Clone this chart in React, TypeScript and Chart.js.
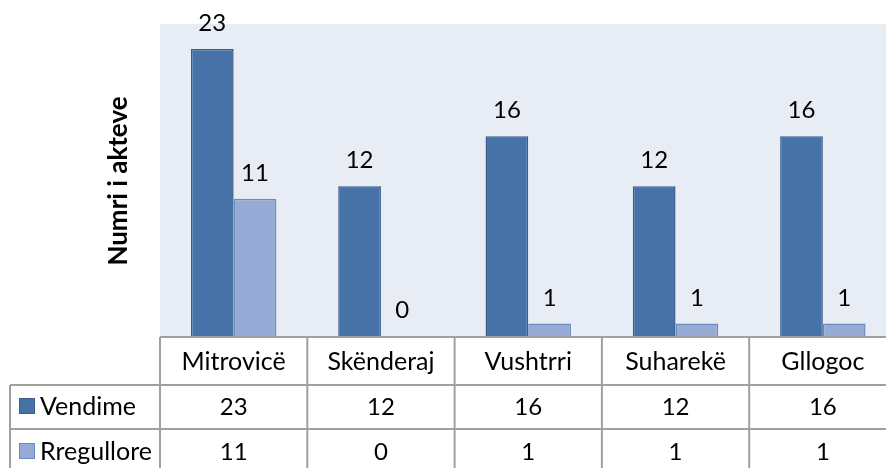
import React, { useEffect, useRef } from "react";
import { Chart, registerables } from "chart.js";

Chart.register(...registerables);

const categories = ["Mitrovicë", "Skënderaj", "Vushtrri", "Suharekë", "Gllogoc"];
const seriesNames = ["Vendime", "Rregullore"];
const vendime = [23, 12, 16, 12, 16];
const rregullore = [11, 0, 1, 1, 1];
const yTitle = "Numri i akteve";

const FILLS = ["#4672a7", "#95abd5"];
const BORDERS = ["#385d8a", "#6a8bc0"];
const FONT = "Lato, 'DejaVu Sans', sans-serif";
const FS_TEXT = 25;
const FS_NUM = 24;
const LINE = "#a0a0a0";

const plotBg = {
  id: "plotBg",
  beforeDatasetsDraw(chart: any) {
    const { ctx, chartArea: a } = chart;
    ctx.save();
    ctx.fillStyle = "#e8ecf4";
    ctx.fillRect(a.left, a.top, a.right - a.left, a.bottom - a.top);
    ctx.restore();
  },
};

const labelsAndTable = {
  id: "labelsAndTable",
  afterDatasetsDraw(chart: any) {
    const { ctx, chartArea: a, scales } = chart;
    const xs = scales.x;
    ctx.save();
    ctx.fillStyle = "#000";
    ctx.font = `${FS_NUM}px ${FONT}`;
    ctx.textAlign = "center";
    ctx.textBaseline = "alphabetic";
    // data labels
    chart.data.datasets.forEach((ds: any, di: number) => {
      const meta = chart.getDatasetMeta(di);
      meta.data.forEach((el: any, i: number) => {
        ctx.fillText(String(ds.data[i]), el.x, el.y - 18);
      });
    });

    // axis title
    ctx.save();
    ctx.font = `bold ${FS_TEXT + 1}px ${FONT}`;
    ctx.translate(a.left - 33, (a.top + a.bottom) / 2 + 1);
    ctx.rotate(-Math.PI / 2);
    ctx.fillText(yTitle, 0, 0);
    ctx.restore();

    // data table
    const n = categories.length;
    const colW = (a.right - a.left) / n;
    const top = a.bottom + 1;
    const r1 = a.bottom + 49;
    const r2 = a.bottom + 93;
    const r3 = a.bottom + 137;
    const legendLeft = 10;
    const right = chart.width + 20;
    ctx.strokeStyle = LINE;
    ctx.lineWidth = 2;
    ctx.beginPath();
    ctx.moveTo(a.left, top);
    ctx.lineTo(right, top);
    ctx.moveTo(legendLeft, r1);
    ctx.lineTo(right, r1);
    ctx.moveTo(legendLeft, r2);
    ctx.lineTo(right, r2);
    ctx.moveTo(legendLeft, r3);
    ctx.lineTo(right, r3);
    ctx.moveTo(legendLeft, r1);
    ctx.lineTo(legendLeft, r3);
    for (let i = 0; i < n; i++) {
      const cx = xs.getPixelForValue(i);
      const lx = cx - colW / 2;
      ctx.moveTo(lx, top);
      ctx.lineTo(lx, r3);
    }
    ctx.stroke();

    ctx.fillStyle = "#000";
    ctx.textAlign = "center";
    const rowsData = [vendime, rregullore];
    for (let i = 0; i < n; i++) {
      const cx = xs.getPixelForValue(i);
      ctx.font = `${FS_TEXT}px ${FONT}`;
      ctx.fillText(categories[i], cx, a.bottom + 34);
      ctx.font = `${FS_NUM}px ${FONT}`;
      ctx.fillText(String(rowsData[0][i]), cx, a.bottom + 79);
      ctx.fillText(String(rowsData[1][i]), cx, a.bottom + 124);
    }
    // legend keys
    const baselines = [a.bottom + 79, a.bottom + 124];
    ctx.font = `${FS_TEXT}px ${FONT}`;
    seriesNames.forEach((name, k) => {
      const by = baselines[k];
      ctx.fillStyle = FILLS[k];
      ctx.fillRect(19, by - 17, 16, 16);
      ctx.strokeStyle = BORDERS[k];
      ctx.lineWidth = 1;
      ctx.strokeRect(19.5, by - 16.5, 15, 15);
      ctx.fillStyle = "#000";
      ctx.textAlign = "left";
      ctx.fillText(name, 40, by);
    });
    ctx.restore();
  },
};

export default function App() {
  const ref = useRef<HTMLCanvasElement>(null);
  useEffect(() => {
    if (!ref.current) return;
    const chart = new Chart(ref.current, {
      type: "bar",
      data: {
        labels: categories,
        datasets: [
          {
            label: seriesNames[0],
            data: vendime,
            backgroundColor: FILLS[0],
            borderColor: BORDERS[0],
            borderWidth: (c: any) => (c.raw === 0 ? 0 : 1.5),
            categoryPercentage: 0.58,
            barPercentage: 1,
          },
          {
            label: seriesNames[1],
            data: rregullore,
            backgroundColor: FILLS[1],
            borderColor: BORDERS[1],
            borderWidth: (c: any) => (c.raw === 0 ? 0 : 1.5),
            categoryPercentage: 0.58,
            barPercentage: 1,
          },
        ],
      },
      options: {
        responsive: false,
        animation: false,
        devicePixelRatio: 1,
        layout: { padding: { left: 160, top: 24, right: 3.5, bottom: 132 } },
        plugins: { legend: { display: false }, tooltip: { enabled: false } },
        scales: {
          x: { display: false },
          y: { display: false, min: 0, max: 25 },
        },
      },
      plugins: [plotBg, labelsAndTable],
    });
    return () => chart.destroy();
  }, []);
  return (
    <div
      style={{
        position: "fixed",
        left: 0,
        top: 0,
        width: 886,
        height: 468,
        overflow: "hidden",
        background: "#fff",
      }}
    >
      <canvas ref={ref} width={900} height={468} style={{ display: "block", width: 900, height: 468 }} />
    </div>
  );
}
